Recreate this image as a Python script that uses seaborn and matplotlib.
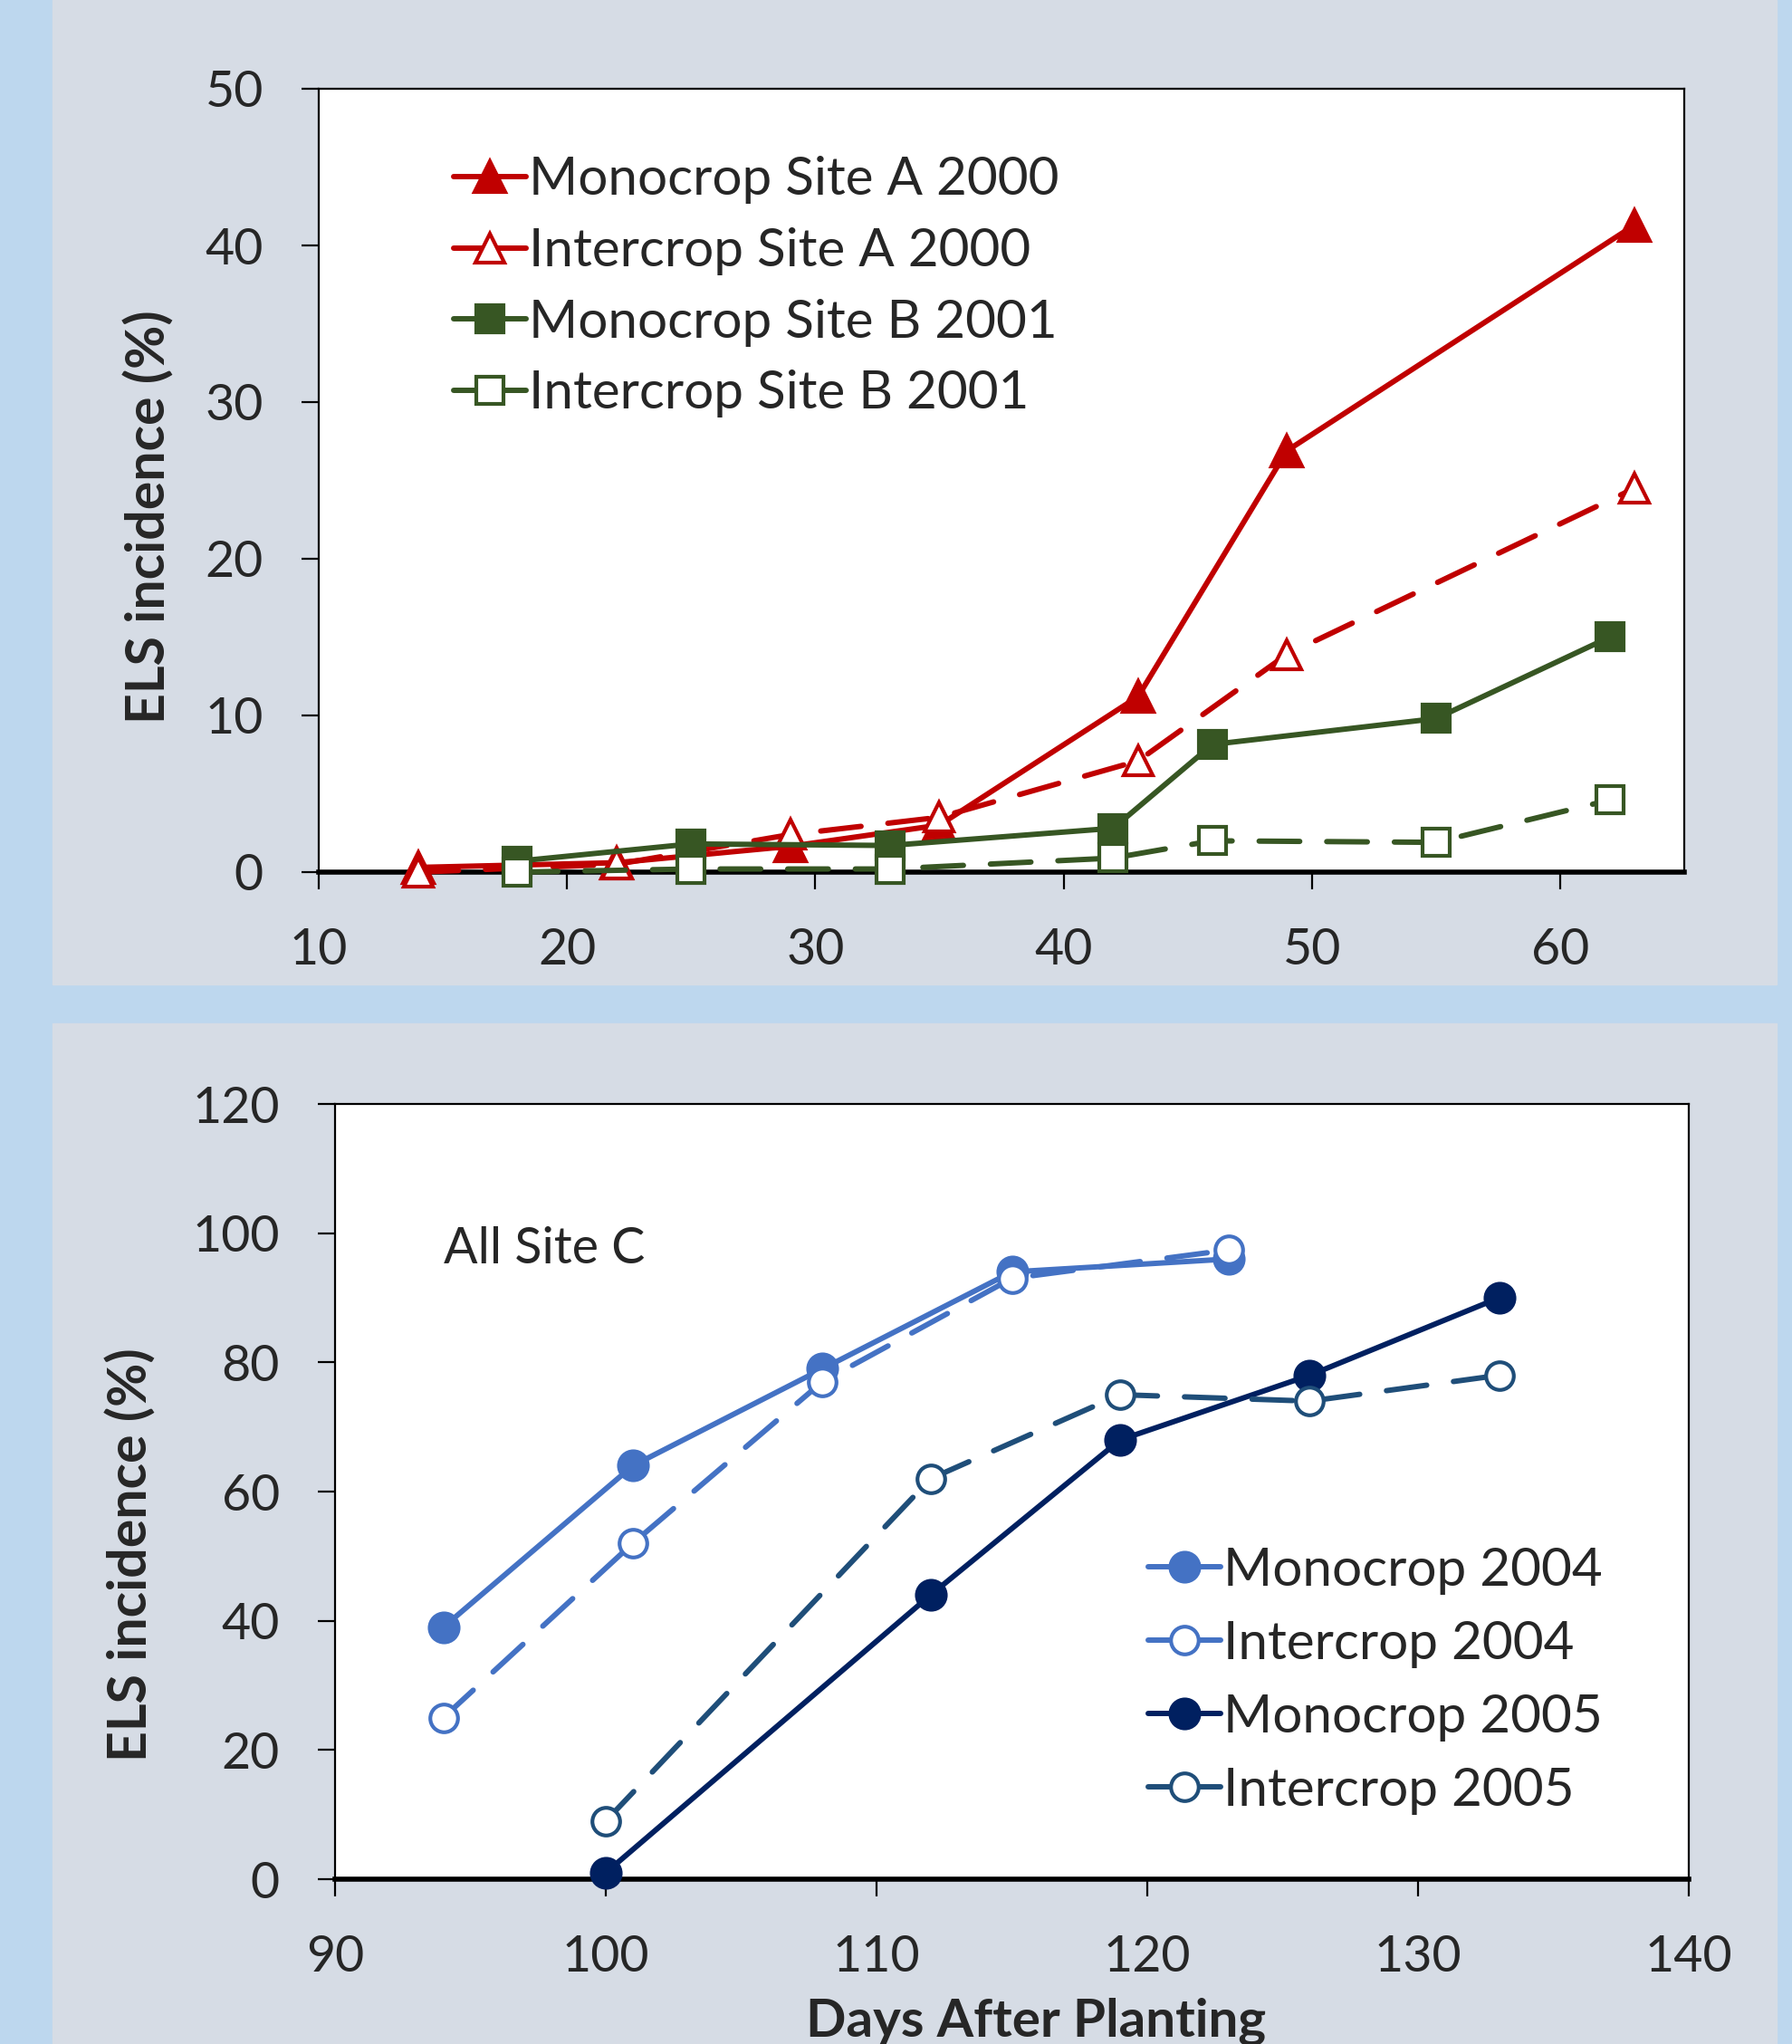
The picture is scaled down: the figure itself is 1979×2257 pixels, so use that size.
import matplotlib
matplotlib.use("Agg")
import matplotlib.pyplot as plt
import seaborn as sns
from matplotlib.patches import Rectangle

# top chart: sites A and B
days_a = [14, 22, 29, 35, 43, 49, 63]
mono_a_2000 = [0.3, 0.6, 1.65, 3.0, 11.2, 26.9, 41.3]
inter_a_2000 = [0.0, 0.5, 2.4, 3.5, 7.1, 13.9, 24.5]
days_b = [18, 25, 33, 42, 46, 55, 62]
mono_b_2001 = [0.7, 1.8, 1.7, 2.8, 8.15, 9.8, 15.0]
inter_b_2001 = [0.0, 0.2, 0.2, 0.9, 2.0, 1.9, 4.6]

# bottom chart: site C
days_2004 = [94, 101, 108, 115, 123]
mono_2004 = [39, 64, 79, 94, 96]
inter_2004 = [25, 52, 77, 93, 97.4]
days_2005 = [100, 112, 119, 126, 133]
mono_2005 = [1, 44, 68, 78, 90]
inter_2005 = [9, 62, 75, 74, 78]

sns.set_style("white")
plt.rcParams['font.family'] = ['Lato', 'DejaVu Sans']

BLUE_BG = "#BDD7EE"
PANEL = "#D6DCE5"
FS = 40
LFS = 42

fig = plt.figure(figsize=(19.79, 22.57), dpi=100)
fig.patch.set_facecolor(BLUE_BG)
W, H = 1979, 2257
fig.patches.append(Rectangle((58 / W, 1 - 1087 / H), (1962 - 58) / W, 1087 / H,
                             transform=fig.transFigure, color=PANEL, zorder=-10))
fig.patches.append(Rectangle((58 / W, 0), (1962 - 58) / W, 1 - 1130 / H,
                             transform=fig.transFigure, color=PANEL, zorder=-10))

ax1 = fig.add_axes([352 / W, 1 - 963 / H, (1860 - 352) / W, (963 - 98) / H])
ax2 = fig.add_axes([370 / W, 1 - 2075 / H, (1865 - 370) / W, (2075 - 1219) / H])

DASH = (0, (7.5, 5))


def draw(ax, x, y, color, marker, filled, dashed, label, ms):
    sns.lineplot(x=x, y=y, ax=ax, color=color, marker=marker, markersize=ms,
                 markerfacecolor=color if filled else "white", markeredgecolor=color,
                 markeredgewidth=3, linewidth=4.3, linestyle=DASH if dashed else "-",
                 dash_capstyle="round", solid_capstyle="round",
                 label=label, clip_on=False)


red = "#C00000"
green = "#375623"
draw(ax1, days_a, mono_a_2000, red, "^", True, False, "Monocrop Site A 2000", 24)
draw(ax1, days_a, inter_a_2000, red, "^", False, True, "Intercrop Site A 2000", 23)
draw(ax1, days_b, mono_b_2001, green, "s", True, False, "Monocrop Site B 2001", 22)
draw(ax1, days_b, inter_b_2001, green, "s", False, True, "Intercrop Site B 2001", 21)

c04 = "#4472C4"
c05m = "#002060"
c05i = "#1F4E79"
draw(ax2, days_2004, mono_2004, c04, "o", True, False, "Monocrop 2004", 23)
draw(ax2, days_2004, inter_2004, c04, "o", False, True, "Intercrop 2004", 22)
draw(ax2, days_2005, mono_2005, c05m, "o", True, False, "Monocrop 2005", 23)
draw(ax2, days_2005, inter_2005, c05i, "o", False, True, "Intercrop 2005", 22)

ax1.set_xlim(10, 65)
ax1.set_ylim(0, 50)
ax1.set_xticks([10, 20, 30, 40, 50, 60])
ax1.set_yticks([0, 10, 20, 30, 40, 50])
ax2.set_xlim(90, 140)
ax2.set_ylim(0, 120)
ax2.set_xticks([90, 100, 110, 120, 130, 140])
ax2.set_yticks([0, 20, 40, 60, 80, 100, 120])

for ax in (ax1, ax2):
    ax.set_facecolor("white")
    for s in ax.spines.values():
        s.set_color("black")
        s.set_linewidth(1.6)
        s.set_zorder(0.5)
    ax.spines["bottom"].set_linewidth(4)
    ax.tick_params(axis="both", direction="out", length=14, width=1.6, color="black",
                   labelsize=FS, pad=30, bottom=True, left=True)
    ax.set_xlabel("")
    ax.set_ylabel("ELS incidence (%)", fontsize=42.5, fontweight="bold")

ax1.yaxis.set_label_coords(-0.106, 0.453)
ax2.yaxis.set_label_coords(-0.132, 0.419)
ax2.set_xlabel("Days After Planting", fontsize=42, fontweight="bold")
ax2.xaxis.set_label_coords(0.518, -0.152)

ax2.text(94, 97.5, "All Site C", fontsize=FS, va="center", ha="left")

leg1 = ax1.legend(loc="upper left", bbox_to_anchor=(0.099, 0.914), frameon=False,
                  fontsize=LFS, handlelength=1.36, handletextpad=0.05, labelspacing=0.44,
                  borderpad=0, borderaxespad=0)
leg2 = ax2.legend(loc="upper left", bbox_to_anchor=(0.601, 0.429), frameon=False,
                  fontsize=LFS, handlelength=1.36, handletextpad=0.05, labelspacing=0.48,
                  borderpad=0, borderaxespad=0)
# legend keys are drawn as short solid strokes like in the original
for leg in (leg1, leg2):
    for ln in leg.get_lines():
        ln.set_linestyle("-")

fig.savefig("out.png", dpi=100, facecolor=fig.get_facecolor())
